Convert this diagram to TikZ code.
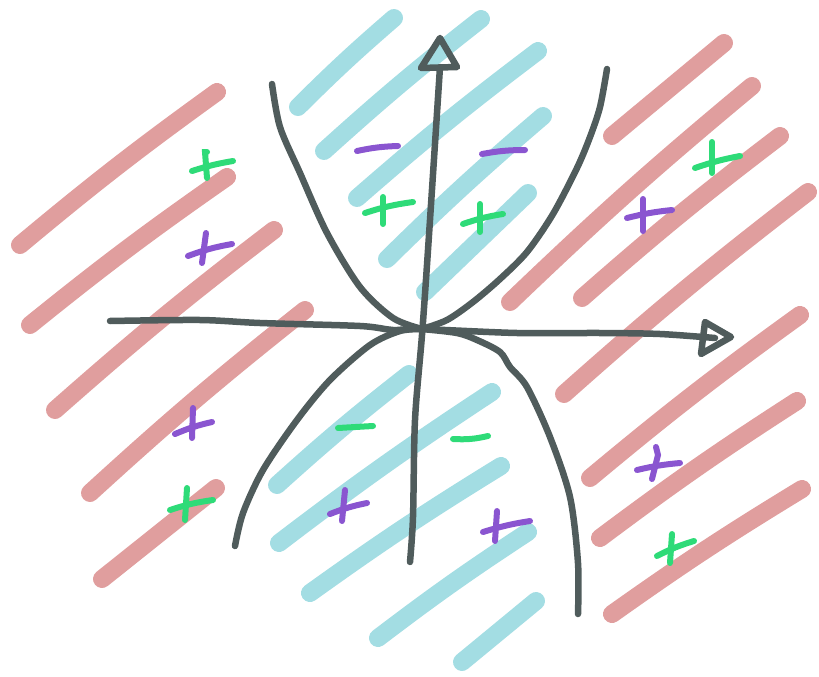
\documentclass[tikz,border=0pt]{standalone}
\definecolor{sketchred}{RGB}{224,158,158}
\definecolor{sketchcyan}{RGB}{163,221,227}
\definecolor{sketchgray}{RGB}{80,92,92}
\definecolor{sketchgreen}{RGB}{46,219,120}
\definecolor{sketchpurple}{RGB}{138,85,208}
\begin{document}
\begin{tikzpicture}[x=1pt,y=-1pt,
  redstroke/.style={draw=sketchred, line width=18pt, line cap=round},
  cyanstroke/.style={draw=sketchcyan, line width=18pt, line cap=round},
  axis/.style={draw=sketchgray, line width=6.5pt, line cap=round, line join=round},
  grn/.style={draw=sketchgreen, line width=6pt, line cap=round},
  prp/.style={draw=sketchpurple, line width=6pt, line cap=round}]
\useasboundingbox (0,0) rectangle (819,677);
% red strokes left
\draw[redstroke] (20,245) to[bend left=2] (217,92);
\draw[redstroke] (30,325) to[bend left=2] (227,177);
\draw[redstroke] (55,410) to[bend left=2] (274,230);
\draw[redstroke] (90,493) to[bend left=2] (305,310);
\draw[redstroke] (102,579) -- (216,488);
% red strokes right
\draw[redstroke] (612,136) -- (724,43);
\draw[redstroke] (510,302) to[bend left=2] (752,86);
\draw[redstroke] (582,298) to[bend left=2] (780,136);
\draw[redstroke] (564,394) to[bend left=2] (808,192);
\draw[redstroke] (590,478) to[bend left=2] (800,315);
\draw[redstroke] (600,538) to[bend left=2] (797,401);
\draw[redstroke] (612,614) to[bend left=2] (802,489);
% cyan strokes top
\draw[cyanstroke] (298,107) to[bend left=2] (394,18);
\draw[cyanstroke] (324,151) to[bend left=2] (481,19);
\draw[cyanstroke] (357,198) to[bend left=2] (538,51);
\draw[cyanstroke] (387,259) to[bend left=2] (543,116);
\draw[cyanstroke] (425,292) -- (528,193);
% cyan strokes bottom
\draw[cyanstroke] (277,485) to[bend left=2] (409,374);
\draw[cyanstroke] (279,543) to[bend left=2] (492,392);
\draw[cyanstroke] (310,593) to[bend left=2] (501,466);
\draw[cyanstroke] (378,638) to[bend left=2] (528,532);
\draw[cyanstroke] (462,662) -- (536,601);
% curves
\draw[axis] plot[smooth] coordinates {(272,84) (280,127) (300,173) (327,233) (360,287) (393,318) (422,329)};
\draw[axis] plot[smooth] coordinates {(607,69) (600,107) (590,137) (577,168) (553,214) (527,252) (500,279) (473,302) (447,320) (422,329)};
\draw[axis] plot[smooth] coordinates {(235,546) (243,513) (263,470) (297,420) (330,380) (370,345) (400,331) (422,329)};
\draw[axis] plot[smooth] coordinates {(578,614) (578,563) (570,497) (550,437) (527,387) (510,367) (500,352) (477,340) (457,333) (422,329)};
% axes
\draw[axis] plot[smooth] coordinates {(110,321) (200,320) (260,323) (360,326) (393,330) (420,329) (517,333) (600,333) (660,334) (715,338)};
\draw[axis] plot[smooth] coordinates {(410,562) (413,517) (415,420) (422,335) (428,250) (440,67)};
\draw[axis] (440,38) -- (421,68) -- (457,67) -- cycle;
\draw[axis] (731,337) -- (705,322) -- (701,354) -- cycle;
% top signs
\draw[prp] (357,151) to[bend left=5] (398,146);
\draw[prp] (482,154) to[bend left=5] (525,150);
\draw[grn] (365,213) to[bend left=5] (413,202);
\draw[grn] (383,197) -- (383,224);
\draw[grn] (463,224) to[bend left=5] (503,214);
\draw[grn] (480,204) -- (480,232);
% bottom signs
\draw[grn] (338,428) -- (373,426);
\draw[grn] (453,439) to[bend right=8] (488,436);
\draw[prp] (330,514) to[bend left=5] (367,503);
\draw[prp] (345,490) -- (342,521);
\draw[prp] (483,532) to[bend left=4] (530,521);
\draw[prp] (497,511) -- (495,541);
% left signs
\draw[grn] (192,171) to[bend left=4] (233,161);
\draw[grn] (207,152) -- (205,152) -- (207,178);
\draw[prp] (188,256) to[bend left=5] (232,244);
\draw[prp] (206,233) -- (202,263);
\draw[prp] (175,434) to[bend left=5] (212,422);
\draw[prp] (193,408) -- (192,438);
\draw[grn] (170,510) to[bend left=5] (213,500);
\draw[grn] (187,488) -- (185,520);
% right signs
\draw[grn] (695,168) to[bend left=4] (740,156);
\draw[grn] (712,142) -- (712,173);
\draw[prp] (627,218) to[bend left=4] (672,210);
\draw[prp] (643,199) -- (643,231);
\draw[prp] (637,470) to[bend left=4] (680,463);
\draw[prp] (656,447) -- (658,455) -- (652,479);
\draw[grn] (657,556) to[bend left=5] (694,541);
\draw[grn] (672,534) -- (670,563);
\end{tikzpicture}
\end{document}
